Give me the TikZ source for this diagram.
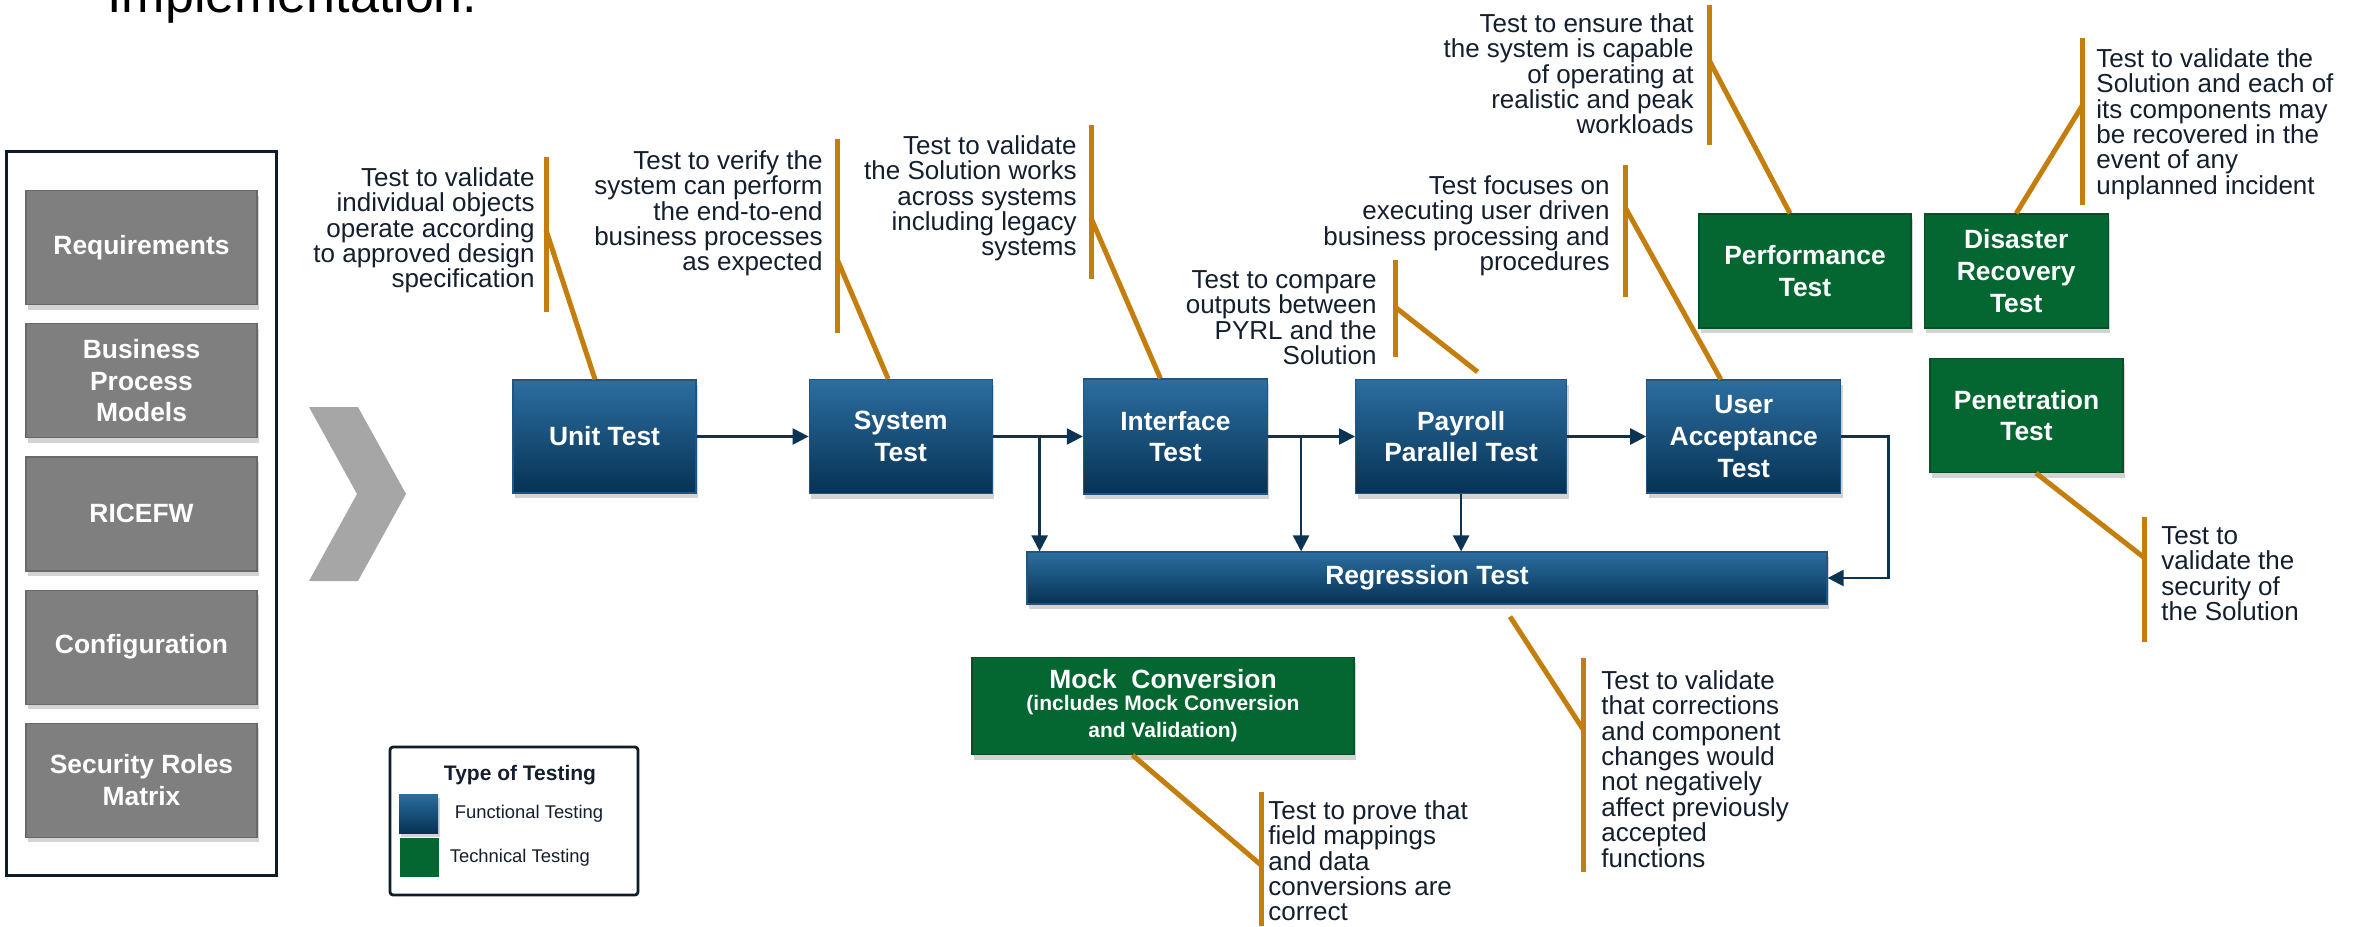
\documentclass[tikz,border=0pt]{standalone}
\usepackage{fontspec}
\setmainfont{Liberation Sans}
\usetikzlibrary{calc,positioning,backgrounds,fit,shadows,arrows.meta}

\definecolor{funcTop}{RGB}{44,110,160}
\definecolor{funcBot}{RGB}{6,50,84}
\definecolor{funcEdge}{RGB}{30,85,130}
\definecolor{techGreen}{RGB}{4,102,48}
\definecolor{techEdge}{RGB}{3,82,38}
\definecolor{inGray}{RGB}{127,127,127}
\definecolor{inEdge}{RGB}{105,105,105}
\definecolor{chevGray}{RGB}{166,166,166}
\definecolor{noteLine}{RGB}{196,126,14}
\definecolor{noteText}{RGB}{20,30,45}
\definecolor{flowLine}{RGB}{12,52,82}
\definecolor{frameLine}{RGB}{14,28,42}

\begin{document}
\begin{tikzpicture}[x=0.5pt,y=-0.5pt,
  every node/.style={inner sep=0pt},
  boxtext/.style={font=\bfseries\fontsize{13.2}{15.8}\selectfont, text=white, align=center},
  inbox/.style={boxtext, fill=inGray, draw=inEdge, line width=0.6pt, minimum width=115.5pt, minimum height=57pt,
    drop shadow={opacity=0.35,shadow xshift=1pt,shadow yshift=-2.5pt}},
  funcbox/.style={boxtext, top color=funcTop, bottom color=funcBot, draw=funcEdge, line width=0.6pt,
    drop shadow={opacity=0.35,shadow xshift=1pt,shadow yshift=-2.5pt}},
  techbox/.style={boxtext, fill=techGreen, draw=techEdge, line width=0.6pt,
    drop shadow={opacity=0.35,shadow xshift=1pt,shadow yshift=-2.5pt}},
  flowarrow/.style={draw=flowLine, line width=1.2pt, -{Triangle[length=8pt,width=8pt]}},
  noteline/.style={draw=noteLine, line width=2.5pt},
  remark/.style={text=noteText, font=\fontsize{13}{12.7}\selectfont},
]
\useasboundingbox (0,0) rectangle (2364,926);

\node[anchor=base west, font=\fontsize{26}{30}\selectfont] (ttl) at (107,12) {Implementation.};

% inputs
\begin{scope}[node distance=9pt]
\node[inbox] (req) at (141.5,247.5) {Requirements};
\node[inbox, below=of req] (bpm) {Business\\Process\\Models};
\node[inbox, below=of bpm] (rice) {RICEFW};
\node[inbox, below=of rice] (conf) {Configuration};
\node[inbox, below=of conf] (srm) {Security Roles\\Matrix};
\end{scope}
\node[draw=frameLine, line width=1.5pt, fit=(req)(srm), inner xsep=9.5pt, inner ysep=19pt] (inputs) {};

\fill[chevGray] (309,407) -- (358,407) -- (406,494) -- (358,581) -- (309,581) -- (357,494) -- cycle;

% functional tests
\node[funcbox, minimum width=91.5pt, minimum height=56.5pt] (unit) at (604.5,436.5) {Unit Test};
\node[funcbox, minimum width=91.5pt, minimum height=57pt, right=56pt of unit] (sys) {System\\Test};
\node[funcbox, minimum width=92pt, minimum height=57.5pt, right=45pt of sys] (intf) {Interface\\Test};
\node[funcbox, minimum width=105.5pt, minimum height=57pt, right=43.5pt of intf] (pay) {Payroll\\Parallel Test};
\node[funcbox, minimum width=97pt, minimum height=56.5pt, right=39.5pt of pay] (uat) {User\\Acceptance\\Test};
\node[funcbox, minimum width=400pt, minimum height=26pt] (regr) at (1427,578) {Regression Test};

% technical tests
\node[techbox, minimum width=106pt, minimum height=57pt] (perf) at (1805,271) {Performance\\Test};
\node[techbox, minimum width=92pt, minimum height=57pt, right=6pt of perf] (dr) {Disaster\\Recovery\\Test};
\node[techbox, minimum width=96.5pt, minimum height=57pt] (pen) at (2026.5,415.5) {Penetration\\Test};
\node[techbox, minimum width=191pt, minimum height=48.5pt, font=\bfseries\fontsize{13.2}{12}\selectfont] (mock) at (1163,706)
  {Mock\ \ Conversion\\[-1pt]\fontsize{10.5}{12.5}\selectfont(includes Mock Conversion\\[1.5pt]\fontsize{10.5}{12.5}\selectfont and Validation)};

% flow
\draw[flowarrow] (unit) -- (sys);
\draw[flowarrow] (sys) -- (intf);
\draw[flowarrow] (intf) -- (pay);
\draw[flowarrow] (pay) -- (uat);
\coordinate (br1) at ($(sys.east)!0.52!(intf.west)$);
\coordinate (br2) at ($(intf.east)!0.38!(pay.west)$);
\draw[flowarrow] (br1) -- (br1 |- regr.north);
\draw[flowarrow] (br2) -- (br2 |- regr.north);
\draw[flowarrow] (pay.south) -- (pay.south |- regr.north);
\draw[flowarrow] (uat.east) -- ++(47,0) |- (regr.east);

% callouts
\coordinate (n1top) at (546,157); \coordinate (n1bot) at (546,312); \coordinate (n1mid) at (546,230);
\draw[noteline] (n1top) -- (n1bot);
\draw[noteline] (n1mid) -- ([xshift=-4.75pt]unit.north);
\node[remark, anchor=north east, align=right] (n1) at (535,167)
  {Test to validate\\individual objects\\operate according\\to approved design\\specification};

\coordinate (n2top) at (837,139); \coordinate (n2bot) at (837,333); \coordinate (n2mid) at (837,259);
\draw[noteline] (n2top) -- (n2bot);
\draw[noteline] (n2mid) -- ([xshift=-6.25pt]sys.north);
\node[remark, anchor=north east, align=right] (n2) at (823,150)
  {Test to verify the\\system can perform\\the end-to-end\\business processes\\as expected};

\coordinate (n3top) at (1091,125); \coordinate (n3bot) at (1091,279); \coordinate (n3mid) at (1091,218);
\draw[noteline] (n3top) -- (n3bot);
\draw[noteline] (n3mid) -- ([xshift=-7.5pt]intf.north);
\node[remark, anchor=north east, align=right] (n3) at (1077,135)
  {Test to validate\\the Solution works\\across systems\\including legacy\\systems};

\coordinate (n4top) at (1395,260); \coordinate (n4bot) at (1395,357); \coordinate (n4mid) at (1395,307);
\draw[noteline] (n4top) -- (n4bot);
\draw[noteline] (n4mid) -- ([xshift=8.25pt,yshift=3.5pt]pay.north);
\node[remark, anchor=north east, align=right] (n4) at (1377,270)
  {Test to compare\\outputs between\\PYRL and the\\Solution};

\coordinate (n5top) at (1625.5,165); \coordinate (n5bot) at (1625.5,297); \coordinate (n5mid) at (1625.5,208);
\draw[noteline] (n5top) -- (n5bot);
\draw[noteline] (n5mid) -- ([xshift=-11.5pt]uat.north);
\node[remark, anchor=north east, align=right] (n5) at (1610,175)
  {Test focuses on\\executing user driven\\business processing and\\procedures};

\coordinate (n6top) at (1709,5); \coordinate (n6bot) at (1709,145); \coordinate (n6mid) at (1709,60);
\draw[noteline] (n6top) -- (n6bot);
\draw[noteline] (n6mid) -- ([xshift=-7.5pt]perf.north);
\node[remark, anchor=north east, align=right] (n6) at (1694,13)
  {Test to ensure that\\the system is capable\\of operating at\\realistic and peak\\workloads};

\coordinate (n7top) at (2082,38); \coordinate (n7bot) at (2082,205); \coordinate (n7mid) at (2082,106);
\draw[noteline] (n7top) -- (n7bot);
\draw[noteline] (n7mid) -- (dr.north);
\node[remark, anchor=north west, align=left] (n7) at (2096,48)
  {Test to validate the\\Solution and each of\\its components may\\be recovered in the\\event of any\\unplanned incident};

\coordinate (n8top) at (2144,517); \coordinate (n8bot) at (2144,642); \coordinate (n8mid) at (2144,557.5);
\draw[noteline] (n8top) -- (n8bot);
\draw[noteline] ([xshift=4.75pt]pen.south) -- (n8mid);
\node[remark, anchor=north west, align=left] (n8) at (2161,526)
  {Test to\\validate the\\security of\\the Solution};

\coordinate (n9top) at (1583.5,658); \coordinate (n9bot) at (1583.5,872); \coordinate (n9mid) at (1583.5,730);
\draw[noteline] (n9top) -- (n9bot);
\draw[noteline] ($(regr.south)+(83,12)$) -- (n9mid);
\node[remark, anchor=north west, align=left] (n9) at (1601,670)
  {Test to validate\\that corrections\\and component\\changes would\\not negatively\\affect previously\\accepted\\functions};

\coordinate (n10top) at (1261,792); \coordinate (n10bot) at (1261,926); \coordinate (n10mid) at (1261,865);
\draw[noteline] (n10top) -- (n10bot);
\draw[noteline] ([xshift=-15.25pt]mock.south) -- (n10mid);
\node[remark, anchor=north west, align=left] (n10) at (1268,800)
  {Test to prove that\\field mappings\\and data\\conversions are\\correct};

% legend
\node[draw=frameLine, line width=1.4pt, rounded corners=1.5pt, minimum width=124pt, minimum height=74pt] (legend) at (514,821) {};
\node[font=\bfseries\fontsize{10.5}{12}\selectfont, text=noteText] (lgtitle) at (520,775) {Type of Testing};
\node[top color=funcTop, bottom color=funcBot, minimum size=19.5pt,
  drop shadow={opacity=0.35,shadow xshift=1pt,shadow yshift=-2pt}] (lgfuncsw) at (418.5,813.5) {};
\node[fill=techGreen, minimum size=19.5pt] (lgtechsw) at (419.5,857.5) {};
\node[right=8pt of lgfuncsw, font=\fontsize{9.2}{11}\selectfont, text=noteText] (lgfunc) {Functional Testing};
\node[right=5pt of lgtechsw, font=\fontsize{9.2}{11}\selectfont, text=noteText] (lgtech) {Technical Testing};

\end{tikzpicture}
\end{document}
